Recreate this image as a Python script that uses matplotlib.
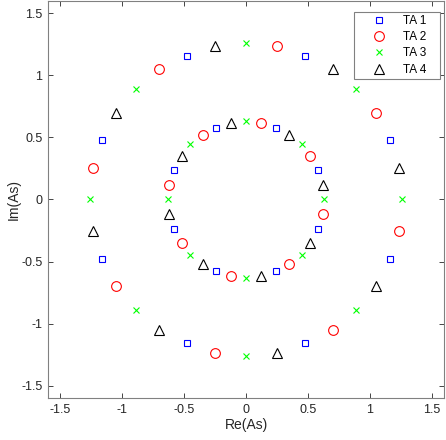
import matplotlib
matplotlib.use("Agg")
import matplotlib.pyplot as plt

# points (outer ring then inner ring)
ta1_re = [1.16, 0.48, -0.48, -1.16, -1.16, -0.48, 0.48, 1.16,
          0.58, 0.24, -0.24, -0.58, -0.58, -0.24, 0.24, 0.58]
ta1_im = [0.48, 1.16, 1.16, 0.48, -0.48, -1.16, -1.16, -0.48,
          0.24, 0.58, 0.58, 0.24, -0.24, -0.58, -0.58, -0.24]

ta2_re = [1.05, 0.25, -0.70, -1.24, -1.05, -0.25, 0.70, 1.24,
          0.52, 0.12, -0.35, -0.62, -0.52, -0.12, 0.35, 0.62]
ta2_im = [0.70, 1.24, 1.05, 0.25, -0.70, -1.24, -1.05, -0.25,
          0.35, 0.62, 0.52, 0.12, -0.35, -0.62, -0.52, -0.12]

ta3_re = [1.26, 0.89, 0.0, -0.89, -1.26, -0.89, 0.0, 0.89,
          0.63, 0.45, 0.0, -0.45, -0.63, -0.45, 0.0, 0.45]
ta3_im = [0.0, 0.89, 1.26, 0.89, 0.0, -0.89, -1.26, -0.89,
          0.0, 0.45, 0.63, 0.45, 0.0, -0.45, -0.63, -0.45]

ta4_re = [1.24, 0.70, -0.25, -1.05, -1.24, -0.70, 0.25, 1.05,
          0.62, 0.35, -0.12, -0.52, -0.62, -0.35, 0.12, 0.52]
ta4_im = [0.25, 1.05, 1.24, 0.70, -0.25, -1.05, -1.24, -0.70,
          0.12, 0.52, 0.62, 0.35, -0.12, -0.52, -0.62, -0.35]

labels = ["TA 1", "TA 2", "TA 3", "TA 4"]
ticks = [-1.5, -1, -0.5, 0, 0.5, 1, 1.5]
tick_text = ["-1.5", "-1", "-0.5", "0", "0.5", "1", "1.5"]

plt.rcParams["font.family"] = ["Liberation Sans", "DejaVu Sans"]
plt.rcParams["font.size"] = 9

fig = plt.figure(figsize=(4.46, 4.40), dpi=100)
ax = fig.add_axes([48 / 446, 42 / 440, 396 / 446, 397 / 440])

ax.plot(ta1_re, ta1_im, "s", color=(0, 0, 1), mfc="none", ms=5, mew=0.8, ls="none", label=labels[0])
ax.plot(ta2_re, ta2_im, "o", color=(1, 0, 0), mfc="none", ms=7, mew=0.8, ls="none", label=labels[1])
ax.plot(ta3_re, ta3_im, "x", color=(0, 1, 0), ms=5, mew=0.8, ls="none", label=labels[2])
ax.plot(ta4_re, ta4_im, "^", color="black", mfc="none", ms=7.5, mew=0.8, ls="none", label=labels[3])

ax.set_xlim(-1.6, 1.6)
ax.set_ylim(-1.6, 1.6)
ax.set_xticks(ticks)
ax.set_xticklabels(tick_text)
ax.set_yticks(ticks)
ax.set_yticklabels(tick_text)
ax.tick_params(direction="in", top=True, right=True, length=3.5, width=0.6,
               colors="0.15", labelsize=9, pad=4)
for sp in ax.spines.values():
    sp.set_color("0.5")
    sp.set_linewidth(0.8)

ax.set_xlabel("Re(As)", fontsize=10, color="0.15", labelpad=2)
ax.set_ylabel("Im(As)", fontsize=10, color="0.15", labelpad=0)

# legend box sits at x 354..440 px, top at 12 px in the reference
leg = ax.legend(loc="upper left", bbox_to_anchor=(0.7727, 0, 0.2172, 0.9723),
                mode="expand", borderaxespad=0, fancybox=False, framealpha=1,
                edgecolor="0.5", fontsize=8.5, borderpad=0.25, labelspacing=0.36,
                handlelength=3.7, handletextpad=0.2)
leg.get_frame().set_linewidth(0.8)

fig.savefig("out.png", dpi=100)
